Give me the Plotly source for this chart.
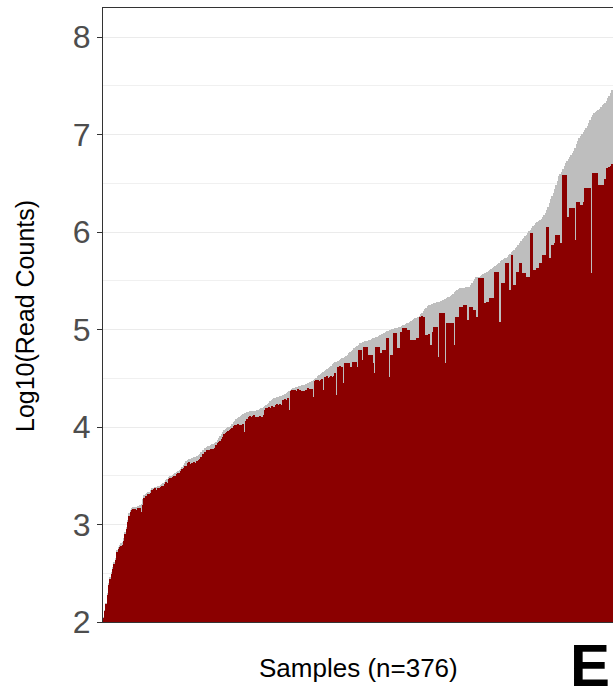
import plotly.graph_objects as go

# Sorted samples: total reads (grey) and filtered reads (dark red), log10 scale
total_reads = [
    2.05, 2.12, 2.2, 2.3, 2.4, 2.46, 2.51, 2.56, 2.62, 2.66,
    2.74, 2.77, 2.79, 2.81, 2.82, 2.86, 2.92, 2.97, 3.05, 3.12,
    3.15, 3.17, 3.18, 3.18, 3.18, 3.19, 3.19, 3.2, 3.21, 3.26,
    3.3, 3.31, 3.32, 3.33, 3.33, 3.35, 3.37, 3.38, 3.39, 3.39,
    3.4, 3.4, 3.41, 3.42, 3.43, 3.44, 3.46, 3.47, 3.49, 3.5,
    3.5, 3.51, 3.52, 3.53, 3.54, 3.55, 3.56, 3.57, 3.59, 3.61,
    3.63, 3.65, 3.66, 3.67, 3.67, 3.68, 3.68, 3.69, 3.69, 3.7,
    3.71, 3.72, 3.74, 3.76, 3.77, 3.79, 3.8, 3.81, 3.81, 3.82,
    3.83, 3.83, 3.84, 3.85, 3.87, 3.89, 3.91, 3.93, 3.95, 3.97,
    3.98, 3.99, 4.0, 4.0, 4.01, 4.03, 4.05, 4.06, 4.08, 4.09,
    4.1, 4.11, 4.12, 4.13, 4.14, 4.14, 4.15, 4.15, 4.16, 4.16,
    4.16, 4.17, 4.17, 4.18, 4.18, 4.19, 4.2, 4.2, 4.21, 4.22,
    4.23, 4.24, 4.25, 4.27, 4.28, 4.29, 4.3, 4.3, 4.31, 4.31,
    4.32, 4.32, 4.33, 4.33, 4.34, 4.35, 4.36, 4.37, 4.38, 4.39,
    4.4, 4.4, 4.41, 4.41, 4.42, 4.42, 4.43, 4.43, 4.43, 4.44,
    4.44, 4.45, 4.46, 4.46, 4.47, 4.48, 4.49, 4.5, 4.52, 4.53,
    4.54, 4.55, 4.57, 4.58, 4.59, 4.6, 4.61, 4.62, 4.63, 4.65,
    4.66, 4.67, 4.67, 4.68, 4.69, 4.7, 4.71, 4.71, 4.72, 4.73,
    4.74, 4.76, 4.77, 4.78, 4.79, 4.81, 4.82, 4.83, 4.84, 4.86,
    4.86, 4.87, 4.87, 4.88, 4.88, 4.88, 4.89, 4.89, 4.9, 4.91,
    4.91, 4.92, 4.92, 4.93, 4.94, 4.95, 4.96, 4.97, 4.98, 4.99,
    4.99, 5.0, 5.0, 5.01, 5.01, 5.02, 5.02, 5.02, 5.03, 5.03,
    5.04, 5.05, 5.05, 5.06, 5.07, 5.07, 5.08, 5.09, 5.1, 5.11,
    5.12, 5.12, 5.13, 5.14, 5.16, 5.17, 5.19, 5.21, 5.22, 5.24,
    5.25, 5.25, 5.26, 5.26, 5.27, 5.27, 5.28, 5.28, 5.28, 5.29,
    5.3, 5.3, 5.31, 5.32, 5.33, 5.33, 5.34, 5.36, 5.37, 5.39,
    5.4, 5.41, 5.42, 5.43, 5.43, 5.43, 5.43, 5.44, 5.44, 5.44,
    5.44, 5.46, 5.48, 5.5, 5.52, 5.54, 5.54, 5.54, 5.55, 5.56,
    5.57, 5.58, 5.58, 5.59, 5.6, 5.61, 5.62, 5.63, 5.64, 5.65,
    5.66, 5.67, 5.68, 5.7, 5.71, 5.72, 5.73, 5.74, 5.75, 5.77,
    5.78, 5.8, 5.81, 5.82, 5.84, 5.85, 5.87, 5.89, 5.91, 5.93,
    5.94, 5.96, 5.97, 5.99, 6.01, 6.02, 6.04, 6.06, 6.07, 6.09,
    6.1, 6.11, 6.12, 6.14, 6.16, 6.18, 6.2, 6.23, 6.26, 6.3,
    6.34, 6.37, 6.4, 6.44, 6.48, 6.53, 6.58, 6.6, 6.62, 6.65,
    6.68, 6.71, 6.73, 6.75, 6.77, 6.79, 6.81, 6.83, 6.86, 6.9,
    6.94, 6.97, 6.99, 7.01, 7.03, 7.05, 7.07, 7.09, 7.12, 7.15,
    7.18, 7.2, 7.22, 7.23, 7.24, 7.25, 7.26, 7.28, 7.3, 7.31,
    7.33, 7.35, 7.38, 7.4, 7.43, 7.46,
]

filtered_reads = [
    2.04, 2.11, 2.18, 2.28, 2.38, 2.44, 2.49, 2.54, 2.6, 2.64,
    2.72, 2.75, 2.77, 2.78, 2.79, 2.83, 2.9, 2.95, 3.03, 3.09,
    3.13, 3.15, 3.16, 3.16, 3.15, 3.17, 3.16, 3.17, 3.13, 3.2,
    3.27, 3.29, 3.28, 3.31, 3.31, 3.32, 3.35, 3.36, 3.37, 3.35,
    3.38, 3.38, 3.39, 3.4, 3.4, 3.42, 3.44, 3.43, 3.47, 3.48,
    3.48, 3.49, 3.5, 3.5, 3.52, 3.53, 3.53, 3.55, 3.57, 3.58,
    3.6, 3.6, 3.63, 3.64, 3.62, 3.63, 3.63, 3.64, 3.63, 3.65,
    3.66, 3.67, 3.69, 3.72, 3.72, 3.74, 3.76, 3.77, 3.76, 3.78,
    3.78, 3.78, 3.79, 3.82, 3.84, 3.85, 3.86, 3.88, 3.9, 3.93,
    3.94, 3.95, 3.96, 3.97, 3.98, 3.99, 4.01, 4.02, 4.02, 4.03,
    4.02, 4.02, 4.02, 4.03, 3.95, 4.06, 4.08, 4.1, 4.11, 4.1,
    4.11, 4.12, 4.1, 4.1, 4.1, 4.11, 4.1, 4.1, 4.12, 4.18,
    4.2, 4.2, 4.21, 4.2, 4.22, 4.2, 4.21, 4.23, 4.24, 4.23,
    4.24, 4.23, 4.28, 4.28, 4.29, 4.28, 4.3, 4.18, 4.37, 4.38,
    4.38, 4.38, 4.37, 4.39, 4.38, 4.38, 4.37, 4.36, 4.37, 4.38,
    4.12, 4.4, 4.39, 4.38, 4.39, 4.31, 4.47, 4.48, 4.48, 4.47,
    4.48, 4.49, 4.38, 4.51, 4.51, 4.52, 4.5, 4.51, 4.52, 4.51,
    4.52, 4.55, 4.33, 4.62, 4.63, 4.62, 4.62, 4.45, 4.66, 4.66,
    4.66, 4.66, 4.62, 4.62, 4.67, 4.67, 4.67, 4.62, 4.79, 4.79,
    4.79, 4.69, 4.82, 4.82, 4.82, 4.69, 4.74, 4.74, 4.74, 4.66,
    4.55, 4.82, 4.82, 4.82, 4.76, 4.76, 4.79, 4.79, 4.79, 4.91,
    4.91, 4.51, 4.74, 4.74, 4.97, 4.97, 4.97, 4.81, 4.81, 4.98,
    4.98, 5.02, 5.02, 5.02, 5.0, 5.0, 4.82, 4.89, 4.89, 4.89,
    4.89, 4.91, 4.91, 5.13, 5.13, 5.14, 5.13, 4.55, 4.94, 4.94,
    4.95, 4.84, 4.84, 4.98, 5.03, 5.03, 5.03, 4.72, 5.17, 5.17,
    5.17, 5.17, 4.66, 5.07, 5.07, 5.07, 5.07, 5.07, 5.07, 4.84,
    5.13, 5.13, 5.13, 5.23, 5.23, 5.1, 5.25, 5.25, 5.1, 5.1,
    5.23, 5.23, 5.23, 5.2, 5.2, 5.13, 5.13, 5.53, 5.53, 5.53,
    5.53, 5.27, 5.27, 5.28, 5.28, 5.32, 5.32, 5.32, 5.32, 5.59,
    5.59, 5.59, 5.08, 5.08, 5.48, 5.48, 5.48, 5.68, 5.68, 5.41,
    5.41, 5.77, 5.46, 5.46, 5.46, 5.59, 5.59, 5.68, 5.68, 5.58,
    5.58, 5.58, 5.54, 5.54, 5.54, 5.99, 5.99, 5.61, 5.61, 5.61,
    5.63, 5.63, 5.68, 5.68, 5.77, 5.77, 5.77, 6.05, 6.05, 5.74,
    5.74, 5.87, 5.87, 5.89, 5.97, 5.97, 5.97, 5.89, 5.89, 6.59,
    6.59, 6.59, 6.16, 6.16, 6.25, 6.25, 6.25, 6.25, 5.92, 6.31,
    6.31, 6.31, 6.28, 6.28, 6.31, 6.45, 6.45, 6.45, 6.45, 6.45,
    5.58, 6.61, 6.61, 6.61, 6.61, 6.48, 6.48, 6.48, 6.48, 5.68,
    6.55, 6.66, 6.66, 6.67, 6.68, 6.7,
]

samples = list(range(len(total_reads)))
y_ticks = [2, 3, 4, 5, 6, 7, 8]
y_ticklabels = ["2", "3", "4", "5", "6", "7", "8"]

FONT = "Liberation Sans, Arial, Helvetica, sans-serif"
W, H = 613, 693
L, R, T, B = 103, 0, 8, 71

fig = go.Figure()
fig.add_trace(go.Bar(
    x=samples, y=[v - 2 for v in total_reads], base=2,
    marker=dict(color="#BEBEBE", line=dict(width=0)),
    hoverinfo="skip", showlegend=False,
))
fig.add_trace(go.Bar(
    x=samples, y=[v - 2 for v in filtered_reads], base=2,
    marker=dict(color="#8B0000", line=dict(width=0)),
    hoverinfo="skip", showlegend=False,
))

fig.update_layout(
    width=W, height=H,
    margin=dict(l=L, r=R, t=T, b=B, pad=0),
    paper_bgcolor="white", plot_bgcolor="white",
    barmode="overlay", bargap=0,
    font=dict(family=FONT, color="#000000"),
    showlegend=False,
    xaxis=dict(
        range=[-0.6, 375.6], showticklabels=False, ticks="",
        showgrid=False, zeroline=False,
        showline=True, mirror=True, linecolor="#333333", linewidth=1,
    ),
    yaxis=dict(
        range=[2, 8.3], tickvals=y_ticks, ticktext=y_ticklabels,
        ticks="outside", ticklen=5, tickwidth=1, tickcolor="#333333",
        tickfont=dict(size=32, color="#4D4D4D", family=FONT),
        showgrid=True, gridcolor="#EBEBEB", gridwidth=1.1,
        minor=dict(dtick=0.5, showgrid=True, gridcolor="#F0F0F0", gridwidth=0.6, ticks=""),
        zeroline=False,
        showline=True, mirror=True, linecolor="#333333", linewidth=1,
    ),
    annotations=[
        dict(text="Samples (n=376)", xref="paper", yref="paper",
             x=0.5, y=(622 - 668) / 614, xanchor="center", yanchor="middle",
             showarrow=False, font=dict(size=26, color="#000000", family=FONT)),
        dict(text="Log10(Read Counts)", xref="paper", yref="paper",
             x=(25 - 103) / 510, y=(622 - 316) / 614, xanchor="center", yanchor="middle",
             textangle=-90, showarrow=False, font=dict(size=25, color="#000000", family=FONT)),
        dict(text="<b>E</b>", xref="paper", yref="paper",
             x=(612 - 103) / 510, y=(622 - 665) / 614, xanchor="right", yanchor="middle",
             showarrow=False, font=dict(size=60, color="#000000", family=FONT)),
    ],
)

fig.write_html("out.html")
